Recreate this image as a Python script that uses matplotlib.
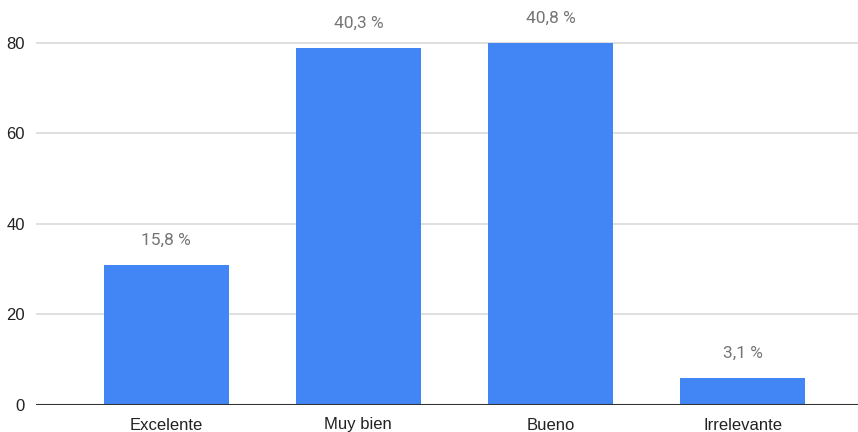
import matplotlib.pyplot as plt

categorias = ["Excelente", "Muy bien", "Bueno", "Irrelevante"]
respuestas = [31, 79, 80, 6]
porcentajes = ["15,8 %", "40,3 %", "40,8 %", "3,1 %"]
ticks_y = [0, 20, 40, 60, 80]

fig = plt.figure(figsize=(8.58, 4.32), dpi=100)
ax = fig.add_axes([0.042, 0.0625, 0.958, 0.9375])

x = range(len(categorias))
barras = ax.bar(x, respuestas, width=0.65, color="#4285F4", zorder=2)

for b, txt in zip(barras, porcentajes):
    ax.annotate(txt, (b.get_x() + b.get_width() / 2, b.get_height()),
                xytext=(0, 12), textcoords="offset points", ha="center", va="bottom",
                color="#757575", fontsize=12.5, family="Roboto")

ax.set_xlim(-0.677, 3.6)
ax.set_ylim(0, 89.5)
ax.set_yticks(ticks_y)
ax.set_xticks(list(x))
ax.set_xticklabels(categorias)
ax.grid(axis="y", color="#d6d6d6", linewidth=1.1, zorder=0)
ax.axhline(0, color="#333333", linewidth=1.5, zorder=3)

for s in ax.spines.values():
    s.set_visible(False)
ax.tick_params(length=0, labelsize=12, labelcolor="#222222")
ax.tick_params(axis="x", pad=9)
ax.tick_params(axis="y", pad=8)
for lbl in ax.get_xticklabels() + ax.get_yticklabels():
    lbl.set_family("Liberation Sans")

fig.savefig("out.png", dpi=100)
